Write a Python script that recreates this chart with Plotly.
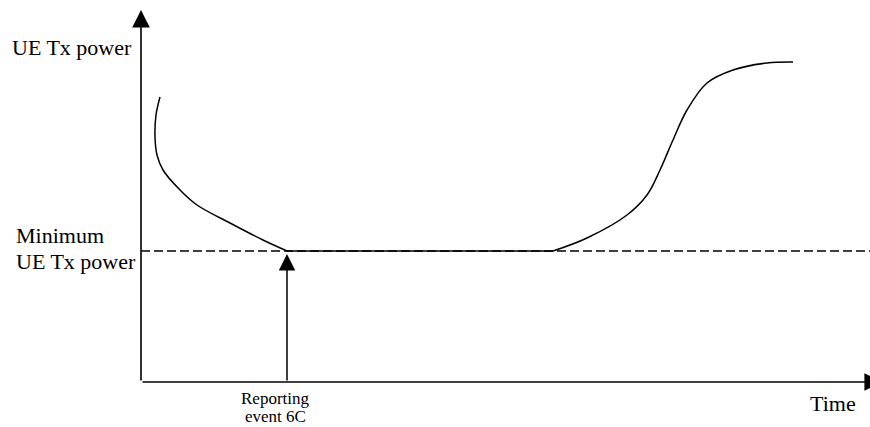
import plotly.graph_objects as go

# ---- data (time, UE Tx power in arbitrary units) ----
time_fall = [19, 15, 14, 16, 22, 39, 56, 89, 122, 146]
power_fall = [285, 267, 245, 227, 212, 192, 177, 159, 142, 131]

time_flat = [146, 412]
power_flat = [131, 131]

time_rise = [412, 446, 486, 506, 519, 532, 546, 566, 592, 626, 652]
power_rise = [131, 144, 167, 187, 212, 242, 272, 299, 312, 319, 320]

min_power = 131
min_time_range = [0, 729]
event_time = 146

W, H = 870, 427
FONT = "Liberation Serif, Times New Roman, serif"

fig = go.Figure()
line_style = dict(color="black", width=1.5)
fig.add_trace(go.Scatter(x=min_time_range, y=[min_power, min_power], mode="lines",
                         line=dict(color="black", width=1.3, dash="9px,4px"), hoverinfo="skip"))
fig.add_trace(go.Scatter(x=time_fall, y=power_fall, mode="lines",
                         line=dict(line_style, shape="spline", smoothing=1.0), hoverinfo="skip"))
fig.add_trace(go.Scatter(x=time_flat, y=power_flat, mode="lines", line=line_style, hoverinfo="skip"))
fig.add_trace(go.Scatter(x=time_rise, y=power_rise, mode="lines",
                         line=dict(line_style, shape="spline", smoothing=1.0), hoverinfo="skip"))

annotations = []
# y axis arrow
annotations.append(dict(xref="paper", yref="paper", x=141 / W, y=1 - 10 / H,
                        axref="pixel", ayref="pixel", ax=0, ay=372,
                        showarrow=True, arrowhead=2, arrowsize=2.2, arrowwidth=1.6,
                        arrowcolor="black", text=""))
# x axis arrow (tip slightly beyond the right edge, as in the reference)
annotations.append(dict(xref="x", yref="y", x=741, y=0,
                        axref="x", ayref="y", ax=0, ay=0,
                        showarrow=True, arrowhead=2, arrowsize=2.2, arrowwidth=1.6,
                        arrowcolor="black", text=""))
# reporting event arrow
annotations.append(dict(xref="x", yref="y", x=event_time, y=min_power - 3,
                        axref="x", ayref="y", ax=event_time, ay=0,
                        showarrow=True, arrowhead=2, arrowsize=2.2, arrowwidth=1.5,
                        arrowcolor="black", text=""))

def txt(s, px, py, size, xanchor="left", align="left"):
    annotations.append(dict(xref="paper", yref="paper", x=px / W, y=1 - py / H,
                            text=s, showarrow=False, xanchor=xanchor, yanchor="middle",
                            align=align, font=dict(family=FONT, size=size, color="black")))

txt("UE Tx power", 10, 47, 22)
txt("Minimum", 14, 236, 22)
txt("UE Tx power", 14, 261, 22)
txt("Reporting", 275, 398, 17, xanchor="center", align="center")
txt("event 6C", 275, 416, 17, xanchor="center", align="center")
txt("Time", 808, 403, 22)

fig.update_layout(
    width=W, height=H,
    margin=dict(l=0, r=0, t=0, b=0),
    paper_bgcolor="white", plot_bgcolor="white",
    showlegend=False,
    xaxis=dict(range=[-141, 729], visible=False, fixedrange=True),
    yaxis=dict(range=[-45, 382], visible=False, fixedrange=True),
    annotations=annotations,
)

fig.write_html("out.html", config={"displayModeBar": False},
               post_script="document.body.style.margin='0';document.body.style.overflow='hidden';")
